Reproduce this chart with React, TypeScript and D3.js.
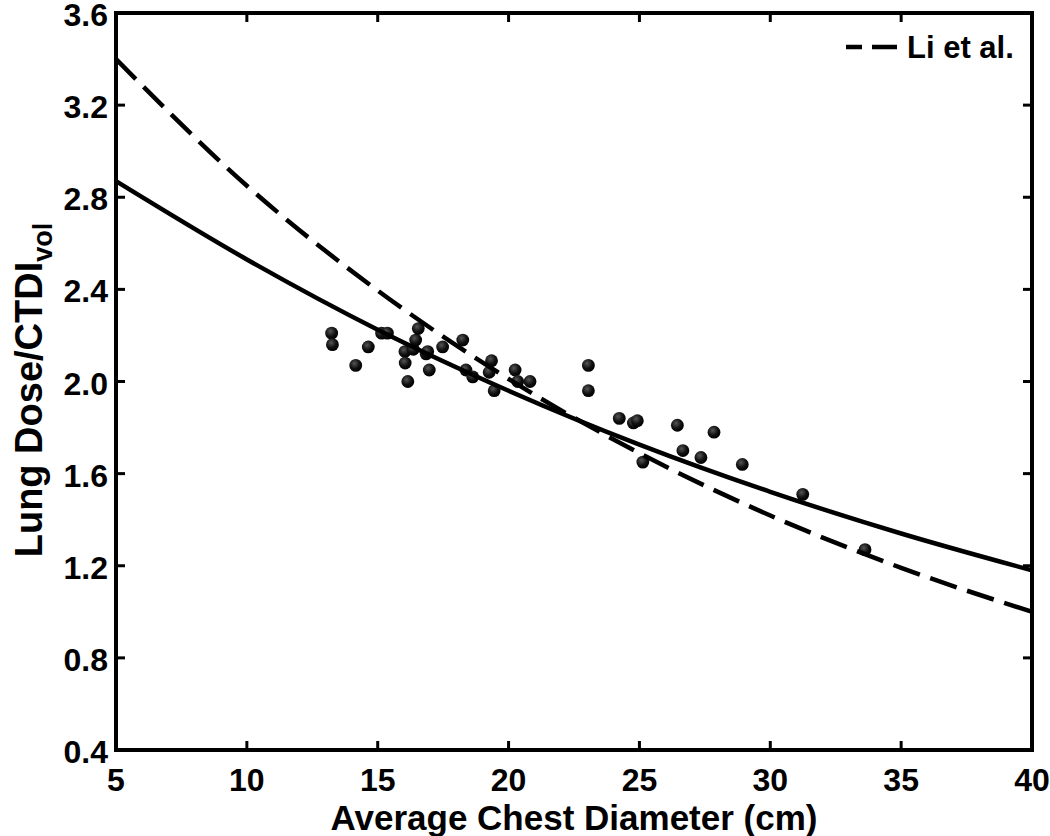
import React from "react";
import * as d3 from "d3";

// measured points (average chest diameter, lung dose / CTDIvol)
const diameters = [
  13.24, 13.27, 14.16, 14.64, 15.15, 15.37, 16.04, 16.05, 16.15, 16.36, 16.45, 16.55, 16.85,
  16.91, 16.97, 17.48, 18.25, 18.37, 18.63, 19.26, 19.35, 19.45, 20.25, 20.35, 20.82, 23.05,
  23.05, 24.23, 24.77, 24.92, 25.13, 26.45, 26.66, 27.35, 27.85, 28.93, 31.24, 33.62,
];
const ratios = [
  2.21, 2.16, 2.07, 2.15, 2.21, 2.21, 2.13, 2.08, 2.0, 2.14, 2.18, 2.23, 2.12, 2.13, 2.05,
  2.15, 2.18, 2.05, 2.02, 2.04, 2.09, 1.96, 2.05, 2.0, 2.0, 2.07, 1.96, 1.84, 1.82, 1.83,
  1.65, 1.81, 1.7, 1.67, 1.78, 1.64, 1.51, 1.27,
];

// curves
const curveX = [5, 10, 15, 20, 25, 30, 35, 40];
const fitY = [2.87, 2.53, 2.225, 1.96, 1.726, 1.521, 1.34, 1.18];
const liY = [3.4, 2.85, 2.395, 2.011, 1.689, 1.418, 1.191, 1.0];

const xTicks = [5, 10, 15, 20, 25, 30, 35, 40];
const yTicks = [0.4, 0.8, 1.2, 1.6, 2.0, 2.4, 2.8, 3.2, 3.6];

const W = 1050;
const H = 836;
const left = 116;
const right = 1032;
const top = 13;
const bottom = 750;
const font = "'Liberation Sans', Arial, Helvetica, sans-serif";

export default function App() {
  const x = d3.scaleLinear().domain([5, 40]).range([left, right]);
  const y = d3.scaleLinear().domain([0.4, 3.6]).range([bottom, top]);

  const line = d3
    .line<[number, number]>()
    .x((d) => x(d[0]))
    .y((d) => y(d[1]))
    .curve(d3.curveMonotoneX);

  const fitPath = line(curveX.map((v, i) => [v, fitY[i]]) as [number, number][]) || "";
  const liPath = line(curveX.map((v, i) => [v, liY[i]]) as [number, number][]) || "";

  const tickLen = 9;
  const dash = "28 11";

  return (
    <svg
      width={W}
      height={H}
      style={{ position: "absolute", left: 0, top: 0, background: "#fff" }}
      fontFamily={font}
      fontWeight="bold"
    >
      <defs>
        <clipPath id="plot">
          <rect x={left} y={top} width={right - left} height={bottom - top} />
        </clipPath>
        <radialGradient id="dot" cx="40%" cy="35%" r="65%">
          <stop offset="0%" stopColor="#555" />
          <stop offset="60%" stopColor="#111" />
          <stop offset="100%" stopColor="#000" />
        </radialGradient>
      </defs>

      <g clipPath="url(#plot)">
        {diameters.map((d, i) => (
          <circle key={i} cx={x(d)} cy={y(ratios[i])} r={6.4} fill="url(#dot)" />
        ))}
        <path d={fitPath} fill="none" stroke="#000" strokeWidth={4.5} />
        <path d={liPath} fill="none" stroke="#000" strokeWidth={4.5} strokeDasharray={dash} />
      </g>

      {/* ticks on all four sides, pointing in */}
      <g stroke="#000" strokeWidth={3}>
        {xTicks.map((t) => (
          <g key={"xt" + t}>
            <line x1={x(t)} x2={x(t)} y1={bottom} y2={bottom - tickLen} />
            <line x1={x(t)} x2={x(t)} y1={top} y2={top + tickLen} />
          </g>
        ))}
        {yTicks.map((t) => (
          <g key={"yt" + t}>
            <line x1={left} x2={left + tickLen} y1={y(t)} y2={y(t)} />
            <line x1={right} x2={right - tickLen} y1={y(t)} y2={y(t)} />
          </g>
        ))}
      </g>
      <rect
        x={left}
        y={top}
        width={right - left}
        height={bottom - top}
        fill="none"
        stroke="#000"
        strokeWidth={4}
      />

      {/* tick labels */}
      <g fontSize={32} fill="#000">
        {xTicks.map((t) => (
          <text key={"xl" + t} x={x(t)} y={791} textAnchor="middle">
            {t}
          </text>
        ))}
        {yTicks.map((t) => (
          <text key={"yl" + t} x={108} y={y(t) + 13} textAnchor="end">
            {t.toFixed(1)}
          </text>
        ))}
      </g>

      {/* axis titles */}
      <text x={(left + right) / 2} y={830} textAnchor="middle" fontSize={35}>
        Average Chest Diameter (cm)
      </text>
      <text
        transform={`translate(42,390) rotate(-90)`}
        textAnchor="middle"
        fontSize={38}
      >
        Lung Dose/CTDI
        <tspan fontSize={27} dy={10}>
          vol
        </tspan>
      </text>

      {/* legend */}
      <line x1={846} x2={897} y1={47} y2={47} stroke="#000" strokeWidth={4.5} strokeDasharray="16 10 25 12" />
      <text x={907} y={58} fontSize={31}>
        Li et al.
      </text>
    </svg>
  );
}
